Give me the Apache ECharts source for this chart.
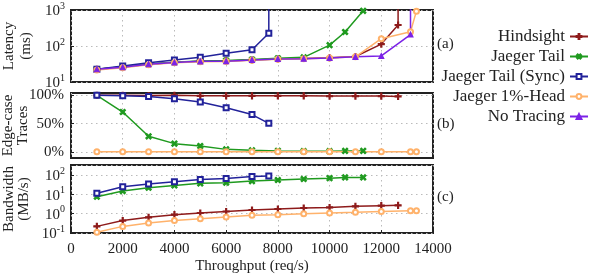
<!DOCTYPE html>
<html>
<head>
<meta charset="utf-8">
<script src="https://cdn.jsdelivr.net/npm/echarts@6/dist/echarts.min.js"></script>
<style>html,body{margin:0;padding:0;background:#fff;}#c{width:598px;height:278px;}</style>
</head>
<body>
<div id="c"></div>
<script>
// ---- data ----
const seriesNames = ['Hindsight', 'Jaeger Tail', 'Jaeger Tail (Sync)', 'Jaeger 1%-Head', 'No Tracing'];
const xTicks = [0, 2000, 4000, 6000, 8000, 10000, 12000, 14000];

const thrHindsight = [1000,2000,3000,4000,5000,6000,7000,8000,9000,10000,11000,12000,12650];
const thrTail = [1000,2000,3000,4000,5000,6000,7000,8000,9000,10000,10600,11300];
const thrSync = [1000,2000,3000,4000,5000,6000,7000,7650];
const thrHead = [1000,2000,3000,4000,5000,6000,7000,8000,9000,10000,11000,12000,13130,13360];
const thrNoTracing = [1000,2000,3000,4000,5000,6000,7000,8000,9000,10000,11000,12000,13130];

// (a) latency, ms
const latHindsight = [22.5,26,31,35,38,38.5,41,43.5,45,47,51,113,383];
const latTail = [22.5,26.5,31.5,35.5,38.5,39.5,42,45.5,48.5,106,245,950];
const latSync = [22.5,27.8,34.4,40.8,48.6,62.7,79,225];
const latHead = [21.5,25,30,34,36.5,37,40,43,44.5,46.5,50,160,250,930];
const latNoTracing = [22.5,25.6,31,35,37.5,38,41,43.5,44.5,46.4,50,53,208];
// latency past the top of the axis (saturation) at the last throughput
const latOverflowHindsight = 5000;
const latOverflowSync = 5000;
const latOverflowNoTracing = 5000;

// (b) edge-case traces, %
const edgeHindsight = [100,100,99.5,100,99,99,99,99,99,98.5,98.5,98.5,98];
const edgeTail = [100,70.5,27.7,14.8,10.6,4.7,3,2,1.5,1.5,2,2];
const edgeSync = [100,99,98,94,88,78,66,50.6];
const edgeHead = [0.5,0.5,0.5,0.5,0.5,0.5,0.5,0.5,0.5,0.5,0.5,0.5,0.5,0.5];

// (c) bandwidth, MB/s
const bwHindsight = [0.22,0.44,0.65,0.89,1.08,1.3,1.55,1.75,1.97,2.1,2.4,2.6,2.7];
const bwTail = [7.5,14.8,22,29,37,40,48.5,55,62,69,75,75];
const bwSync = [11.3,24.6,34,44.5,59,66,84,90];
const bwHead = [0.11,0.22,0.33,0.44,0.55,0.68,0.82,0.89,1.0,1.08,1.17,1.3,1.43,1.43];

const edgeTicks = [0, 50, 100];
const panelLabels = ['(a)', '(b)', '(c)'];

// ---- styles ----
const FONT = '"Liberation Serif", "DejaVu Serif", serif';
const TXT = '#222';
const colors = {
  'Hindsight': '#8e1b1b',
  'Jaeger Tail': '#1f9a1f',
  'Jaeger Tail (Sync)': '#22229a',
  'Jaeger 1%-Head': '#ffb26b',
  'No Tracing': '#7b22e6'
};
const PLUS = 'path://M4.1,0H5.9V4.1H10V5.9H5.9V10H4.1V5.9H0V4.1H4.1Z';
const XMARK = 'path://M3.9,0H6.1V3.9H10V6.1H6.1V10H3.9V6.1H0V3.9H3.9Z';
const symbols = {
  'Hindsight': {symbol: PLUS, symbolSize: 6, symbolRotate: 0},
  'Jaeger Tail': {symbol: XMARK, symbolSize: 6.5, symbolRotate: 45},
  'Jaeger Tail (Sync)': {symbol: 'emptyRect', symbolSize: 5, symbolRotate: 0},
  'Jaeger 1%-Head': {symbol: 'emptyCircle', symbolSize: 5, symbolRotate: 0},
  'No Tracing': {symbol: 'triangle', symbolSize: 5, symbolRotate: 0}
};

function pairs(xs, ys) { return xs.map((x, i) => [x, ys[i]]); }
function withOverflow(xs, ys, over) { const d = pairs(xs, ys); d.push([xs[xs.length - 1], over]); return d; }

function mk(name, idx, data) {
  const s = symbols[name];
  return {
    name, type: 'line', xAxisIndex: idx, yAxisIndex: idx, data,
    symbol: s.symbol, symbolSize: s.symbolSize, symbolRotate: s.symbolRotate,
    showAllSymbol: true, clip: true, animation: false,
    lineStyle: {color: colors[name], width: 1.5},
    itemStyle: {color: colors[name], borderColor: colors[name], borderWidth: 1.1},
    emphasis: {disabled: true}
  };
}

const logLabel = v => {
  const l = Math.log10(v); const e = Math.round(l);
  if (Math.abs(l - e) > 1e-6) return '';
  return '{b|10}{s|' + e + '}';
};
const richPow = {
  b: {fontFamily: FONT, fontSize: 15, color: TXT, lineHeight: 18, verticalAlign: 'bottom'},
  s: {fontFamily: FONT, fontSize: 10, color: TXT, lineHeight: 18, verticalAlign: 'top'}
};

const gridBase = {left: 71, width: 362, show: true, borderColor: '#222', borderWidth: 2, backgroundColor: 'transparent', containLabel: false, outerBoundsMode: 'none'};
const grids = [
  Object.assign({top: 10, height: 72}, gridBase),
  Object.assign({top: 93, height: 65}, gridBase),
  Object.assign({top: 165, height: 68}, gridBase)
];

const splitDotted = {show: true, lineStyle: {color: '#bbb', type: [1.5, 3.5], width: 1}};

const xAxes = [0, 1, 2].map(i => ({
  type: 'value', gridIndex: i, min: xTicks[0], max: xTicks[xTicks.length - 1], interval: xTicks[1] - xTicks[0],
  axisLine: {show: false}, axisTick: {show: i === 2, inside: true, length: 3, lineStyle: {color: '#222'}},
  splitLine: splitDotted,
  axisLabel: {show: i === 2, formatter: v => String(v), fontFamily: FONT, fontSize: 15, color: TXT, margin: 9},
  name: i === 2 ? 'Throughput (req/s)' : '', nameLocation: 'middle', nameGap: 26,
  nameTextStyle: {fontFamily: FONT, fontSize: 15, color: TXT}
}));

const yName = {nameLocation: 'middle', nameRotate: 90, nameMoveOverlap: false};
const nameStyle = lh => ({fontFamily: FONT, fontSize: 15, color: TXT, lineHeight: lh});
const yAxes = [
  Object.assign({
    type: 'log', logBase: 10, gridIndex: 0, min: 10, max: 1000,
    name: 'Latency\n(ms)', nameGap: 36, nameTextStyle: nameStyle(17),
    axisLine: {show: false}, axisTick: {show: true, inside: true, length: 3, lineStyle: {color: '#222'}},
    splitLine: splitDotted,
    axisLabel: {formatter: logLabel, rich: richPow, margin: 6}
  }, yName),
  Object.assign({
    type: 'value', gridIndex: 1, min: -10.5, max: 104,
    name: 'Edge-case\nTraces', nameGap: 41, nameTextStyle: nameStyle(14.5),
    axisLine: {show: false}, axisTick: {show: true, inside: true, length: 3, customValues: edgeTicks, lineStyle: {color: '#222'}},
    splitLine: splitDotted,
    axisLabel: {customValues: edgeTicks, formatter: v => v + '%', fontFamily: FONT, fontSize: 15, color: TXT, margin: 7}
  }, yName),
  Object.assign({
    type: 'log', logBase: 10, gridIndex: 2, min: 0.1, max: 330,
    name: 'Bandwidth\n(MB/s)', nameGap: 39, nameTextStyle: nameStyle(15),
    axisLine: {show: false}, axisTick: {show: true, inside: true, length: 3, lineStyle: {color: '#222'}},
    splitLine: splitDotted,
    axisLabel: {formatter: logLabel, rich: richPow, margin: 6}
  }, yName)
];

const series = [
  mk('Hindsight', 0, withOverflow(thrHindsight, latHindsight, latOverflowHindsight)),
  mk('Jaeger Tail', 0, pairs(thrTail, latTail)),
  mk('Jaeger Tail (Sync)', 0, withOverflow(thrSync, latSync, latOverflowSync)),
  mk('Jaeger 1%-Head', 0, pairs(thrHead, latHead)),
  mk('No Tracing', 0, withOverflow(thrNoTracing, latNoTracing, latOverflowNoTracing)),
  mk('Hindsight', 1, pairs(thrHindsight, edgeHindsight)),
  mk('Jaeger Tail', 1, pairs(thrTail, edgeTail)),
  mk('Jaeger Tail (Sync)', 1, pairs(thrSync, edgeSync)),
  mk('Jaeger 1%-Head', 1, pairs(thrHead, edgeHead)),
  mk('Hindsight', 2, pairs(thrHindsight, bwHindsight)),
  mk('Jaeger Tail', 2, pairs(thrTail, bwTail)),
  mk('Jaeger Tail (Sync)', 2, pairs(thrSync, bwSync)),
  mk('Jaeger 1%-Head', 2, pairs(thrHead, bwHead))
];

const chart = echarts.init(document.getElementById('c'), null, {renderer: 'canvas'});
chart.setOption({
  animation: false,
  backgroundColor: '#fff',
  grid: grids,
  xAxis: xAxes,
  yAxis: yAxes,
  legend: {
    data: seriesNames, orient: 'vertical', right: 9, top: 28, align: 'right', padding: 0,
    itemWidth: 18, itemHeight: 6, itemGap: 3,
    textStyle: {fontFamily: FONT, fontSize: 17, color: TXT},
    selectedMode: false
  },
  graphic: panelLabels.map((t, i) => ({
    type: 'text', left: 437, top: grids[i].top + grids[i].height / 2 - 9,
    style: {text: t, font: '15px ' + FONT, fill: TXT}
  })),
  series
});
</script>
</body>
</html>
